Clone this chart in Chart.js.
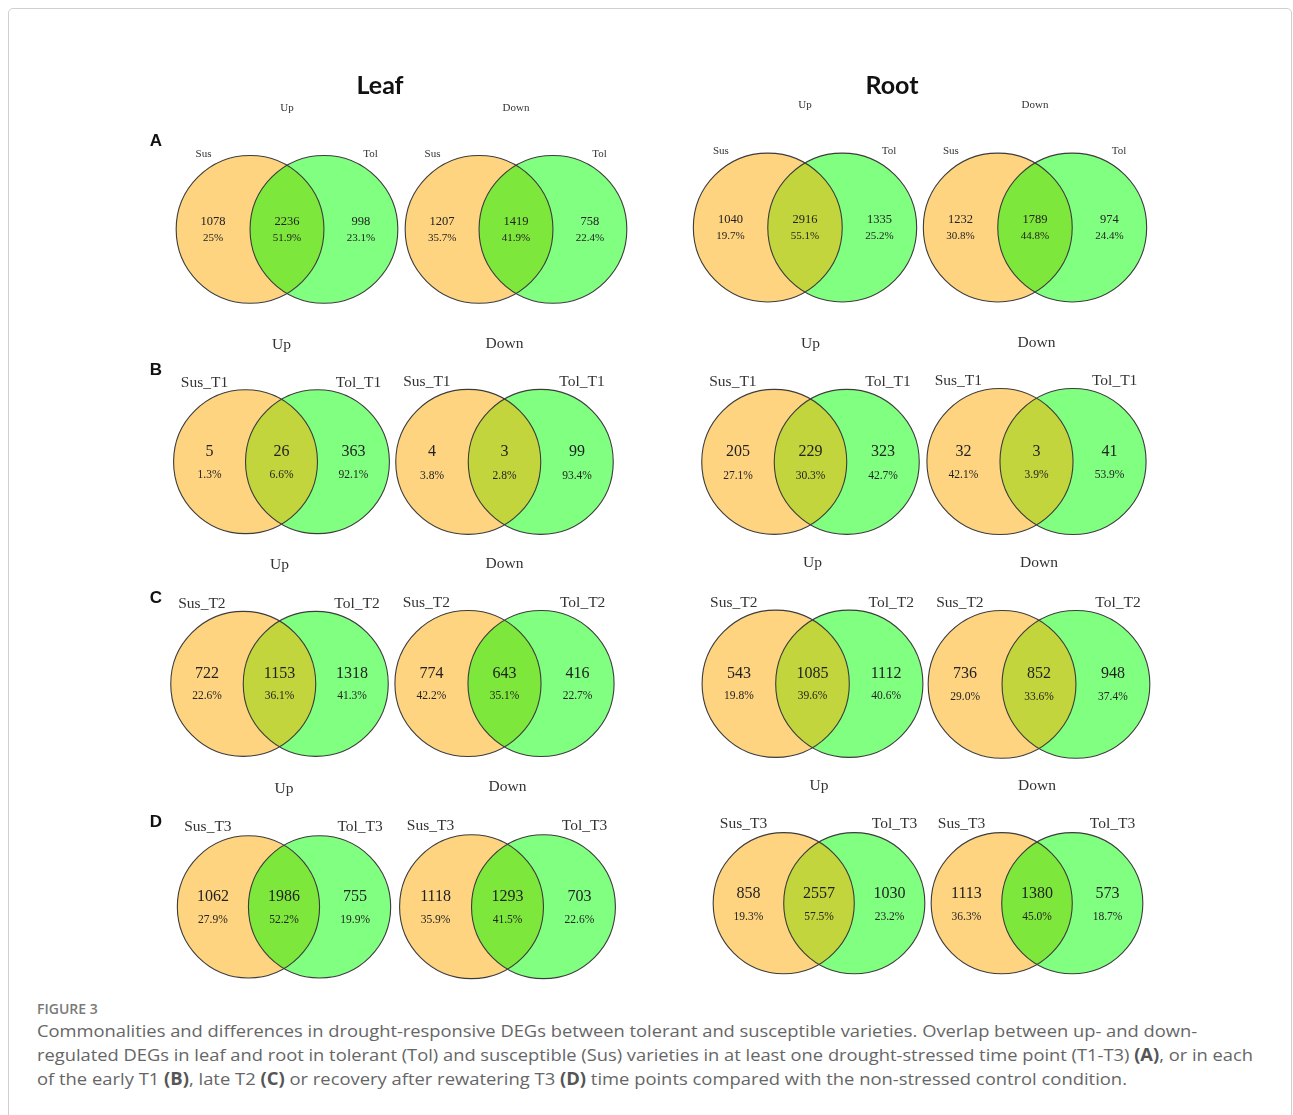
<!DOCTYPE html>
<html>
<head>
<meta charset="utf-8">
<title>Figure 3</title>
<script src="https://cdn.jsdelivr.net/npm/chart.js@4.4.1/dist/chart.umd.min.js"></script>
<style>
  html, body { margin: 0; padding: 0; background: #fff; }
  body { width: 1293px; height: 1115px; position: relative; overflow: hidden; }
  #frame { position: absolute; left: 8px; top: 8px; width: 1284px; height: 1140px;
           border: 1px solid #cfcfcf; border-radius: 5px; box-sizing: border-box; }
  .venn { position: absolute; }
  .tissue { position: absolute; font-family: Lato, "Open Sans", sans-serif; font-weight: 700;
            font-size: 25px; color: #111; transform: translate(-50%, -50%); white-space: nowrap; }
  .panel { position: absolute; font-family: "Liberation Sans", Arial, sans-serif; font-weight: 700;
           font-size: 17px; color: #111; transform: translate(-50%, -50%); }
  .fig { position: absolute; left: 37px; top: 999px; font-family: "Open Sans", sans-serif;
         font-size: 14px; font-weight: 600; color: #7a7a7a; white-space: nowrap; }
  .cap { position: absolute; left: 37px; font-family: "Open Sans", sans-serif; font-size: 17px;
         color: #666; white-space: nowrap; transform-origin: 0 50%; line-height: 20px; }
  .cap b { color: #555; }
</style>
</head>
<body>
<div id="frame"></div>
<div id="stage"></div>

<script>
// ---- labels ----
const tissues = ['Leaf', 'Root'];
const directions = ['Up', 'Down'];
const panelLetters = ['A', 'B', 'C', 'D'];
const susNames = ['Sus', 'Sus_T1', 'Sus_T2', 'Sus_T3'];
const tolNames = ['Tol', 'Tol_T1', 'Tol_T2', 'Tol_T3'];

// ---- DEG counts per region: [Sus only, shared, Tol only] ----
// order inside each panel: Leaf Up, Leaf Down, Root Up, Root Down
const countsA = [[1078, 2236, 998], [1207, 1419, 758], [1040, 2916, 1335], [1232, 1789, 974]];
const countsB = [[5, 26, 363], [4, 3, 99], [205, 229, 323], [32, 3, 41]];
const countsC = [[722, 1153, 1318], [774, 643, 416], [543, 1085, 1112], [736, 852, 948]];
const countsD = [[1062, 1986, 755], [1118, 1293, 703], [858, 2557, 1030], [1113, 1380, 573]];

// ---- region shares as printed ----
const percentsA = [['25%', '51.9%', '23.1%'], ['35.7%', '41.9%', '22.4%'], ['19.7%', '55.1%', '25.2%'], ['30.8%', '44.8%', '24.4%']];
const percentsB = [['1.3%', '6.6%', '92.1%'], ['3.8%', '2.8%', '93.4%'], ['27.1%', '30.3%', '42.7%'], ['42.1%', '3.9%', '53.9%']];
const percentsC = [['22.6%', '36.1%', '41.3%'], ['42.2%', '35.1%', '22.7%'], ['19.8%', '39.6%', '40.6%'], ['29.0%', '33.6%', '37.4%']];
const percentsD = [['27.9%', '52.2%', '19.9%'], ['35.9%', '41.5%', '22.6%'], ['19.3%', '57.5%', '23.2%'], ['36.3%', '45.0%', '18.7%']];

const allCounts = [countsA, countsB, countsC, countsD];
const allPercents = [percentsA, percentsB, percentsC, percentsD];

// ---- Venn geometry (in units of the circle radius) ----
const setOffsets = [-0.5, 0.5];     // circle centres
const regionX = [-1, 0, 1];         // label anchors: Sus only, shared, Tol only

// ---- page layout: [middle x, centre y, radius] of each diagram ----
const vennPlacement = [
  [[287, 229.5, 74], [516, 229.5, 74], [805, 228, 74.5], [1034.5, 228, 74.5]],
  [[281.5, 461.5, 72], [504, 461.5, 72.5], [810, 461.5, 72.5], [1036, 461.5, 73]],
  [[279, 684, 72.5], [504, 684, 73], [812, 684, 73.5], [1039, 684, 74]],
  [[284, 907, 71], [507, 907, 72], [818.5, 903.5, 70.5], [1036.5, 903.5, 70.5]]
];

// ---- styles ----
const susColor = '#FED480';
const tolColor = '#80FF80';
const lensColors = { bright: '#7DE83B', olive: '#C3D53C' };
const lensStyle = [
  ['bright', 'bright', 'olive', 'bright'],
  ['olive', 'olive', 'olive', 'olive'],
  ['olive', 'bright', 'olive', 'olive'],
  ['bright', 'bright', 'olive', 'bright']
];
const rowText = [
  { title: 11, set: 11, num: 12.5, pct: 11, setDx: 1.13, setDy: -1.02, numDy: -0.1, pctDy: 0.12, titleDy: -1.64 },
  { title: 15.5, set: 15.5, num: 16, pct: 11.5, setDx: 1.07, setDy: -1.1, numDy: -0.14, pctDy: 0.19, titleDy: -1.63 },
  { title: 15.5, set: 15.5, num: 16, pct: 11.5, setDx: 1.07, setDy: -1.1, numDy: -0.14, pctDy: 0.17, titleDy: -1.64 },
  { title: 15.5, set: 15.5, num: 16, pct: 11.5, setDx: 1.07, setDy: -1.12, numDy: -0.14, pctDy: 0.19, titleDy: -1.66 }
];
const X_HALF = 1.8, Y_TOP = -1.9, Y_BOTTOM = 1.2;

// Circle radius in pixels = one x-scale unit.
function unitRadius(chart) {
  const xs = chart.scales.x;
  return Math.abs(xs.getPixelForValue(1) - xs.getPixelForValue(0));
}

// Draws the shared lens, the outlines and all texts of one two-set Venn diagram.
const vennPlugin = {
  id: 'venn',
  afterDatasetsDraw(chart, args, opts) {
    const ctx = chart.ctx;
    const pts = chart.getDatasetMeta(0).data;
    const rad = unitRadius(chart);
    const [a, b] = pts;
    ctx.save();
    ctx.beginPath(); ctx.arc(a.x, a.y, rad, 0, Math.PI * 2); ctx.clip();
    ctx.beginPath(); ctx.arc(b.x, b.y, rad, 0, Math.PI * 2);
    ctx.fillStyle = opts.lens; ctx.fill();
    ctx.restore();

    ctx.save();
    ctx.strokeStyle = '#3c3c3c'; ctx.lineWidth = 1.1;
    pts.forEach(p => { ctx.beginPath(); ctx.arc(p.x, p.y, rad, 0, Math.PI * 2); ctx.stroke(); });

    const xs = chart.scales.x, ys = chart.scales.y, t = opts.text;
    ctx.textAlign = 'center'; ctx.textBaseline = 'middle';
    ctx.fillStyle = '#333';
    ctx.font = t.title + 'px "Liberation Serif", serif';
    ctx.fillText(opts.title, xs.getPixelForValue(0), ys.getPixelForValue(t.titleDy));
    ctx.font = t.set + 'px "Liberation Serif", serif';
    ctx.fillText(opts.sets[0], xs.getPixelForValue(-t.setDx), ys.getPixelForValue(t.setDy));
    ctx.fillText(opts.sets[1], xs.getPixelForValue(t.setDx), ys.getPixelForValue(t.setDy));

    ctx.fillStyle = '#222';
    regionX.forEach((rx, i) => {
      ctx.font = t.num + 'px "Liberation Serif", serif';
      ctx.fillText(String(opts.counts[i]), xs.getPixelForValue(rx), ys.getPixelForValue(t.numDy));
      ctx.font = t.pct + 'px "Liberation Serif", serif';
      ctx.fillText(opts.percents[i], xs.getPixelForValue(rx), ys.getPixelForValue(t.pctDy));
    });
    ctx.restore();
  }
};

const stage = document.getElementById('stage');

function addText(cls, text, x, y) {
  const d = document.createElement('div');
  d.className = cls; d.textContent = text;
  d.style.left = x + 'px'; d.style.top = y + 'px';
  document.body.appendChild(d);
}

addText('tissue', tissues[0], 380, 84);
addText('tissue', tissues[1], 892, 84);
const letterY = [141, 370, 598, 822];
panelLetters.forEach((L, i) => addText('panel', L, 156, letterY[i]));

allCounts.forEach((panelCounts, row) => {
  panelCounts.forEach((counts, k) => {
    const [mx, cy, r] = vennPlacement[row][k];
    const w = Math.round(2 * X_HALF * r);
    const h = Math.round((Y_BOTTOM - Y_TOP) * r);
    const cv = document.createElement('canvas');
    cv.className = 'venn';
    cv.width = w; cv.height = h;
    cv.style.width = w + 'px'; cv.style.height = h + 'px';
    cv.style.left = (mx - w / 2) + 'px';
    cv.style.top = (cy - (-Y_TOP) * (h / (Y_BOTTOM - Y_TOP))) + 'px';
    stage.appendChild(cv);

    new Chart(cv, {
      type: 'bubble',
      data: {
        datasets: [{
          data: setOffsets.map(x => ({ x: x, y: 0 })),
          backgroundColor: [susColor, tolColor],
          borderWidth: 0,
          radius: w / (2 * X_HALF),
          hoverRadius: 0
        }]
      },
      options: {
        responsive: false,
        animation: false,
        events: [],
        layout: { padding: 0, autoPadding: false },
        plugins: {
          legend: { display: false },
          tooltip: { enabled: false },
          venn: {
            lens: lensColors[lensStyle[row][k]],
            text: rowText[row],
            title: directions[k % 2],
            sets: [susNames[row], tolNames[row]],
            counts: counts,
            percents: allPercents[row][k]
          }
        },
        scales: {
          x: { type: 'linear', min: -X_HALF, max: X_HALF, display: false },
          y: { type: 'linear', min: Y_TOP, max: Y_BOTTOM, reverse: true, display: false }
        }
      },
      plugins: [vennPlugin]
    });
  });
});

// Caption
const fig = document.createElement('div');
fig.className = 'fig'; fig.textContent = 'FIGURE 3';
document.body.appendChild(fig);

const captionLines = [
  'Commonalities and differences in drought-responsive DEGs between tolerant and susceptible varieties. Overlap between up- and down-',
  'regulated DEGs in leaf and root in tolerant (Tol) and susceptible (Sus) varieties in at least one drought-stressed time point (T1-T3) <b>(A)</b>, or in each',
  'of the early T1 <b>(B)</b>, late T2 <b>(C)</b> or recovery after rewatering T3 <b>(D)</b> time points compared with the non-stressed control condition.'
];
const captionRight = [1197, 1253, 1127];
const captionY = [1021, 1045, 1069];
captionLines.forEach((html, i) => {
  const d = document.createElement('div');
  d.className = 'cap'; d.innerHTML = html; d.style.top = captionY[i] + 'px';
  document.body.appendChild(d);
  const wdt = d.getBoundingClientRect().width;
  d.style.transform = 'scaleX(' + ((captionRight[i] - 37) / wdt).toFixed(4) + ')';
});
</script>
</body>
</html>
